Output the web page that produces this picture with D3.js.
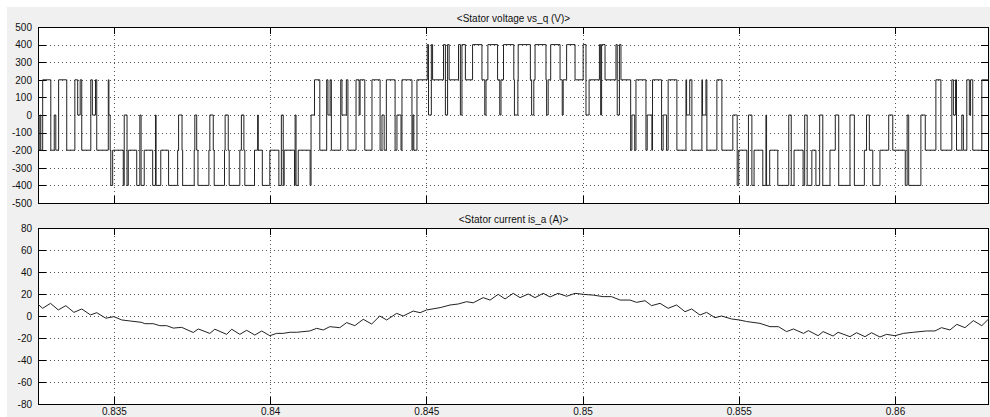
<!DOCTYPE html>
<html>
<head>
<meta charset="utf-8">
<title>Stator voltage vs_q and stator current is_a</title>
<script src="https://d3js.org/d3.v7.min.js"></script>
<style>
  html, body { margin: 0; background: #fff; }
  svg { display: block; }
  text { font-family: "Liberation Sans", Arial, sans-serif; font-size: 10px; fill: #111; }
  .grid line { stroke: #555; stroke-dasharray: 1,3; shape-rendering: crispEdges; }
  .axis line { stroke: #000; shape-rendering: crispEdges; }
  .axis path { display: none; }
</style>
</head>
<body>
<svg width="990" height="417"></svg>
<script>
// ---- data ----
const xTicks = [0.835, 0.84, 0.845, 0.85, 0.855, 0.86];
const vTicks = [-500, -400, -300, -200, -100, 0, 100, 200, 300, 400, 500];
const iTicks = [-80, -60, -40, -20, 0, 20, 40, 60, 80];
const titles = ["<Stator voltage vs_q (V)>", "<Stator current is_a (A)>"];

// vs_q: [time of switching, new level]
const vsqSteps = [
  [0.83257,0],[0.83259,-200],[0.83263,0],[0.83266,-200],[0.83272,200],[0.83298,-200],[0.83309,0],[0.83314,-200],
  [0.83323,200],[0.83349,-200],[0.83375,200],[0.83384,0],[0.83392,200],[0.83397,-200],[0.83426,200],[0.83431,0],
  [0.83441,200],[0.83445,-200],[0.83482,200],[0.83484,0],[0.83488,-200],[0.83490,-400],[0.83496,-200],
  [0.83530,-400],[0.83533,0],[0.83542,-400],[0.83546,-200],[0.83573,-400],[0.83583,0],[0.83587,-400],[0.83597,-200],
  [0.83624,-400],[0.83633,0],[0.83635,-400],[0.83650,-200],[0.83675,-400],[0.83704,-200],[0.83707,0],[0.83718,-200],
  [0.83720,-400],[0.83757,-200],[0.83759,0],[0.83765,-200],[0.83769,-400],[0.83804,-200],[0.83807,0],[0.83818,-200],
  [0.83821,-400],[0.83854,-200],[0.83856,0],[0.83866,-200],[0.83869,-400],[0.83903,-200],[0.83908,0],[0.83916,-200],
  [0.83919,-400],[0.83950,-200],[0.83960,0],[0.83962,-200],[0.83975,-400],[0.83999,-200],[0.84028,-400],[0.84036,0],
  [0.84042,-400],[0.84045,-200],[0.84078,-400],[0.84080,0],[0.84083,-400],[0.84090,-200],[0.84128,-400],[0.84131,0],
  [0.84142,200],[0.84159,-200],[0.84181,200],[0.84185,0],[0.84192,200],[0.84196,-200],[0.84226,200],[0.84230,0],
  [0.84244,200],[0.84249,-200],[0.84275,200],[0.84285,0],[0.84288,200],[0.84303,-200],[0.84326,200],[0.84352,-200],
  [0.84358,0],[0.84365,-200],[0.84372,200],[0.84400,-200],[0.84406,0],[0.84419,-200],[0.84422,200],[0.84454,-200],
  [0.84457,0],[0.84460,-200],[0.84470,200],
  [0.84503,400],[0.84507,0],[0.84516,400],[0.84520,200],[0.84555,400],[0.84561,0],[0.84568,400],[0.84573,200],
  [0.84603,400],[0.84609,0],[0.84614,400],[0.84625,200],[0.84648,400],[0.84678,200],[0.84687,0],[0.84691,200],
  [0.84697,400],[0.84728,200],[0.84735,0],[0.84739,200],[0.84747,400],[0.84780,200],[0.84782,0],[0.84793,200],
  [0.84794,400],[0.84833,200],[0.84837,0],[0.84844,200],[0.84848,400],[0.84883,200],[0.84885,0],[0.84890,200],
  [0.84898,400],[0.84928,200],[0.84935,0],[0.84938,200],[0.84949,400],[0.84976,200],[0.85002,400],[0.85011,0],
  [0.85021,200],[0.85054,400],[0.85058,0],[0.85061,400],[0.85072,200],[0.85107,400],[0.85111,0],[0.85118,400],
  [0.85123,200],
  [0.85154,-200],[0.85158,0],[0.85167,-200],[0.85171,200],[0.85203,-200],[0.85207,0],[0.85222,-200],[0.85224,200],
  [0.85253,-200],[0.85258,0],[0.85269,-200],[0.85274,200],[0.85302,-200],[0.85331,200],[0.85333,0],[0.85343,200],
  [0.85350,-200],[0.85382,200],[0.85384,0],[0.85395,200],[0.85398,-200],[0.85430,200],[0.85446,-200],[0.85481,0],
  [0.85495,-400],[0.85500,-200],
  [0.85526,-400],[0.85531,0],[0.85542,-400],[0.85549,-200],[0.85577,-400],[0.85587,0],[0.85589,-400],[0.85599,-200],
  [0.85625,-400],[0.85660,0],[0.85668,-400],[0.85677,-200],[0.85706,-400],[0.85711,0],[0.85719,-400],[0.85734,-200],
  [0.85747,-400],[0.85759,0],[0.85769,-400],[0.85792,-200],[0.85809,0],[0.85820,-400],[0.85856,0],[0.85870,-400],
  [0.85902,-200],[0.85909,0],[0.85918,-200],[0.85929,-400],[0.85952,-200],[0.85980,0],[0.85993,-200],[0.86033,-400],
  [0.86039,0],[0.86044,-400],[0.86083,0],[0.86097,-200],
  [0.86131,200],[0.86147,-200],[0.86182,200],[0.86187,0],[0.86194,200],[0.86197,-200],[0.86214,0],[0.86219,-200],
  [0.86230,200],[0.86238,0],[0.86242,200],[0.86249,-200],[0.86278,200],[0.86301,200]
];

// is_a: [time, current]
const isaPoints = [
  [0.83256,10.9],[0.83272,7],[0.83297,11.5],[0.83322,5.5],[0.83346,9.4],[0.83372,3.3],[0.83397,6.4],[0.83425,1],
  [0.83445,3],[0.83474,-2],[0.83500,-0.6],[0.83525,-3.6],[0.83551,-4.5],[0.83589,-5.8],[0.83599,-7],[0.83626,-7],
  [0.83647,-8.8],[0.83669,-8.8],[0.83690,-11],[0.83717,-10.3],[0.83754,-15],[0.83770,-11.8],[0.83807,-15.8],[0.83823,-12],
  [0.83861,-16.7],[0.83877,-12],[0.83903,-16.7],[0.83925,-13],[0.83951,-17.3],[0.83973,-13.6],[0.83999,-17.9],[0.84021,-15.8],
  [0.84042,-15.8],[0.84063,-14.8],[0.84085,-14.8],[0.84127,-13.6],[0.84149,-11.2],[0.84170,-12.7],[0.84191,-9.7],[0.84223,-10.6],
  [0.84245,-6],[0.84271,-8.8],[0.84298,-3],[0.84325,-7.3],[0.84351,0],[0.84373,-3.6],[0.84405,2.4],[0.84426,0],
  [0.84458,4.5],[0.84480,3],[0.84501,5.5],[0.84544,7.6],[0.84576,10],[0.84602,10.9],[0.84629,13],[0.84650,12],
  [0.84682,16.7],[0.84704,14.5],[0.84730,19.7],[0.84752,15.5],[0.84778,20.6],[0.84800,16.7],[0.84826,20],[0.84848,16.7],
  [0.84874,20.6],[0.84896,17.3],[0.84922,20.6],[0.84949,17.9],[0.84976,20.6],[0.85002,19.7],[0.85034,19],[0.85066,17.6],
  [0.85093,17.6],[0.85120,14.5],[0.85152,14.5],[0.85173,12.4],[0.85200,13.9],[0.85221,9.4],[0.85248,11.5],[0.85274,7],
  [0.85301,10],[0.85328,3.9],[0.85349,6.4],[0.85376,0.9],[0.85397,3.3],[0.85424,-1.5],[0.85445,0],[0.85477,-2.7],
  [0.85502,-3.6],[0.85525,-5],[0.85568,-6.7],[0.85600,-9.7],[0.85627,-9.7],[0.85653,-14.2],[0.85675,-11.8],[0.85707,-15.8],
  [0.85723,-13.3],[0.85754,-17.9],[0.85770,-14.2],[0.85802,-18.2],[0.85818,-14.8],[0.85856,-18.8],[0.85877,-15.2],[0.85904,-18.8],
  [0.85925,-15.2],[0.85952,-19.1],[0.85973,-16.7],[0.86000,-17.9],[0.86027,-15.8],[0.86059,-14.8],[0.86101,-13.6],[0.86128,-13.6],
  [0.86149,-10.6],[0.86176,-12.7],[0.86198,-7.6],[0.86224,-10.6],[0.86251,-4.2],[0.86278,-8.8],[0.86304,-1.5]
];

// ---- drawing ----
const width = 990, height = 417;
const left = 38, right = 989;

var svg = d3.select("svg");

// figure background (grey scope window, white strip top/left)
svg.append("rect")
    .attr("x", 7).attr("y", 7)
    .attr("width", width - 7).attr("height", height - 7)
    .attr("fill", "#f0f0f0");

var x = d3.scaleLinear().domain([0.83257, 0.86301]).range([left, right]);

function panel(id, top, bottom, yDomain, yTicks, title, showXLabels) {
    var y = d3.scaleLinear().domain(yDomain).range([bottom, top]);
    var g = svg.append("g");

    g.append("clipPath").attr("id", id)
      .append("rect").attr("x", left).attr("y", top)
      .attr("width", right - left).attr("height", bottom - top);

    g.append("rect")
        .attr("x", left).attr("y", top)
        .attr("width", right - left).attr("height", bottom - top)
        .attr("fill", "#fff");

    // dotted grid
    var grid = g.append("g").attr("class", "grid");
    grid.selectAll(".gy")
        .data(yTicks.slice(1, -1))
        .enter().append("line")
        .attr("x1", left).attr("x2", right)
        .attr("y1", d => Math.round(y(d)) + 0.5)
        .attr("y2", d => Math.round(y(d)) + 0.5);
    grid.selectAll(".gx")
        .data(xTicks)
        .enter().append("line")
        .attr("y1", top).attr("y2", bottom)
        .attr("x1", d => Math.round(x(d)) + 0.5)
        .attr("x2", d => Math.round(x(d)) + 0.5);

    // axes with inward ticks
    g.append("g").attr("class", "axis")
        .attr("transform", `translate(${left},0)`)
        .call(d3.axisLeft(y).tickValues(yTicks).tickSize(-8).tickPadding(6).tickFormat(d => String(d)));
    g.append("g").attr("class", "axis")
        .attr("transform", `translate(${right},0)`)
        .call(d3.axisRight(y).tickValues(yTicks).tickSize(-8).tickFormat(""));
    g.append("g").attr("class", "axis")
        .attr("transform", `translate(0,${top})`)
        .call(d3.axisTop(x).tickValues(xTicks).tickSize(-7).tickFormat(""));
    g.append("g").attr("class", "axis")
        .attr("transform", `translate(0,${bottom})`)
        .call(d3.axisBottom(x).tickValues(xTicks).tickSize(-7).tickPadding(4)
              .tickFormat(showXLabels ? (d => String(d)) : ""));

    g.selectAll(".axis text").attr("fill", "#111").style("font-size", "10px");

    // frame
    g.append("rect")
        .attr("x", left + 0.5).attr("y", top + 0.5)
        .attr("width", right - left - 1).attr("height", bottom - top)
        .attr("fill", "none").attr("stroke", "#000")
        .attr("shape-rendering", "crispEdges");

    g.append("text")
        .attr("x", (left + right) / 2).attr("y", top - 5)
        .attr("text-anchor", "middle")
        .text(title);

    return { g: g, y: y };
}

var p1 = panel("clipV", 27, 203, [-500, 500], vTicks, titles[0], false);
var p2 = panel("clipI", 228, 404, [-80, 80], iTicks, titles[1], true);

var vLine = d3.line()
    .curve(d3.curveStepAfter)
    .x(d => x(d[0]))
    .y(d => p1.y(d[1]));

p1.g.append("path")
    .datum(vsqSteps)
    .attr("clip-path", "url(#clipV)")
    .attr("fill", "none")
    .attr("stroke", "#222")
    .attr("stroke-width", 1)
    .attr("d", vLine);

var iLine = d3.line()
    .x(d => x(d[0]))
    .y(d => p2.y(d[1]));

p2.g.append("path")
    .datum(isaPoints)
    .attr("clip-path", "url(#clipI)")
    .attr("fill", "none")
    .attr("stroke", "#222")
    .attr("stroke-width", 1)
    .attr("d", iLine);
</script>
</body>
</html>
